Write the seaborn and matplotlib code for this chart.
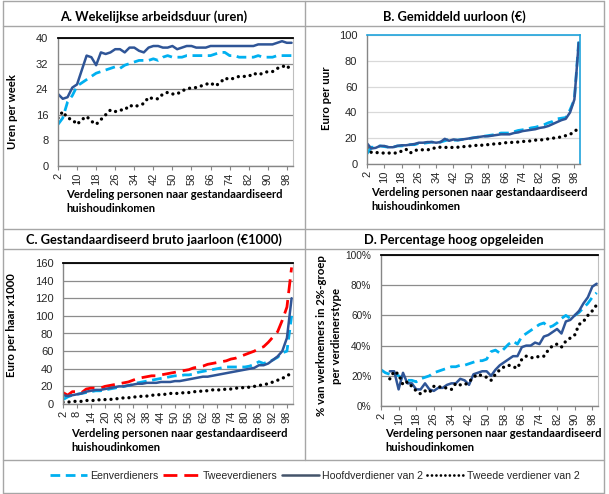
import numpy as np
import pandas as pd
import matplotlib
matplotlib.use("Agg")
import matplotlib.pyplot as plt
from matplotlib.lines import Line2D
from matplotlib.ticker import FuncFormatter
import seaborn as sns

# ---------------- data ----------------
percentiles = list(range(2, 101, 2))

a_een = [13, 15, 20, 22, 25, 26, 27, 28, 29, 29.5, 30, 30.5, 31, 30.5, 31.5, 32, 32.5, 33, 33, 33,
         33.5, 33, 34, 34.5, 34, 34, 34, 34.5, 34.5, 34.5, 34.5, 34.5, 34.5, 35, 35.5, 35.5, 34.5, 34.5,
         34, 34, 34, 34, 34.5, 34, 34, 34, 34.5, 34.5, 34.5, 34.5]
a_hoofd = [22.5, 21, 21.5, 24.5, 25.5, 30, 34.5, 34, 31.5, 35.5, 35, 35.5, 36.5, 36.5, 35.5, 37, 37, 36,
           35.5, 37, 37.5, 37.5, 37, 37, 37.5, 36.5, 37, 37.5, 37.5, 37, 37, 37, 37.5, 37.5, 37.5, 37.5,
           37.5, 37.5, 37.5, 37.5, 37.5, 37.5, 38, 38, 38, 38, 38.5, 39, 38.5, 38.5]
a_tweede = [15, 17, 15, 14.5, 13, 14.5, 15.5, 14, 13, 14.5, 16, 17.5, 17, 17.5, 17.5, 19, 18.5, 19, 19.5,
            21.5, 21, 21, 22.5, 23, 22.5, 22.5, 23.5, 24, 24.5, 24.5, 25, 25.5, 26, 25, 26, 27.5, 27,
            27.5, 28, 28, 28, 29, 28.5, 29, 29.5, 29.5, 30.5, 31, 31.5, 29.5]

b_een = [8, 13, 13, 14, 13.5, 13, 13, 14, 14, 14.5, 15, 15, 16, 16, 16.5, 17, 16.5, 17, 18, 19, 18.5,
         18.5, 19, 19.5, 20, 20.5, 21, 21.5, 22, 22.5, 23, 24, 24, 24, 25, 26, 26.5, 27, 28, 28.5, 29.5,
         30.5, 32, 33, 35, 35.5, 36, 42, 50, 95]
b_hoofd = [16, 12, 12.5, 14, 14, 13, 13, 14, 14.5, 14.5, 15, 15.5, 16.5, 16.5, 17, 17, 16.5, 17, 19.5,
           18, 19, 18.5, 19, 19.5, 20, 20.5, 21, 21.5, 21.5, 22, 22.5, 23, 23, 23, 24, 24.5, 25.5, 26,
           26.5, 27, 28, 28.5, 29.5, 31, 32.5, 34, 35, 40, 50, 94]
b_tweede = [12.5, 9, 9, 8.5, 8.5, 8.5, 8.5, 8.5, 10, 11.5, 8.5, 10.5, 11, 11, 11, 11.5, 13, 13, 13, 12.5,
            13, 13, 13.5, 13.5, 14, 14.5, 14, 15, 15, 15.5, 15.5, 16, 16.5, 16.5, 17, 17, 17.5, 17.5, 18,
            18.5, 18.5, 19, 19.5, 20, 20.5, 21, 22, 23, 25, 28]

c_een = [5, 8, 10, 11, 12, 13, 14, 15, 15, 16, 17, 18, 19, 20, 21, 22, 24, 25, 26, 27, 28, 29, 30, 31,
         32, 32, 33, 33, 34, 36, 37, 38, 39, 40, 41, 42, 42, 42, 42, 42, 43, 45, 48, 46, 48, 50, 53, 58,
         60, 100]
c_twee = [13, 10, 14, 14, 13, 17, 18, 18, 18, 20, 21, 22, 23, 24, 25, 27, 29, 30, 31, 32, 32, 33, 34,
          35, 36, 37, 38, 39, 41, 42, 43, 45, 46, 47, 48, 49, 51, 52, 54, 56, 58, 60, 63, 65, 70, 76, 82,
          95, 110, 155]
c_hoofd = [10, 9, 10, 11, 12, 14, 15, 16, 16, 17, 18, 19, 20, 20, 21, 22, 23, 23, 24, 24, 24, 25, 25,
           25, 26, 26, 27, 28, 29, 30, 31, 31, 32, 33, 34, 35, 36, 37, 38, 39, 40, 41, 44, 44, 46, 50, 54,
           60, 75, 120]
c_tweede = [2, 2, 3, 3, 3, 4, 4, 4, 5, 5, 5, 6, 6, 7, 7, 8, 8, 9, 9, 10, 10, 11, 11, 12, 12, 12, 13, 13,
            14, 14, 15, 15, 16, 16, 16, 17, 17, 18, 18, 19, 19, 20, 21, 22, 23, 25, 27, 29, 32, 35]

d_een = [24, 22, 21, 22, 20, 18, 17, 17, 16, 18, 19, 20, 22, 23, 24, 25, 26, 26, 27, 27, 28, 29, 30, 30,
         31, 36, 37, 35, 38, 41, 43, 41, 46, 48, 50, 52, 54, 55, 52, 53, 55, 58, 60, 58, 60, 62, 65, 68,
         72, 75]
d_hoofd = [np.nan, np.nan, 23, 23, 11, 22, 15, 15, 11, 11, 15, 11, 10, 12, 12, 14, 15, 15, 18, 17, 14,
           21, 22, 23, 23, 20, 24, 27, 29, 31, 33, 33, 39, 40, 40, 42, 41, 46, 47, 49, 51, 48, 56, 57, 60,
           63, 68, 72, 79, 81]
d_tweede = [np.nan, np.nan, 18, 23, 21, 14, 16, 13, 10, 8, 10, 9, 13, 13, 12, 12, 11, 15, 14, 14, 16, 19,
            21, 20, 19, 17, 21, 24, 26, 27, 26, 25, 31, 33, 32, 32, 33, 33, 37, 40, 41, 39, 43, 45, 47, 54,
            56, 60, 63, 67]

titles = ["A. Wekelijkse arbeidsduur (uren)", "B. Gemiddeld uurloon (\u20ac)",
          "C. Gestandaardiseerd bruto jaarloon (\u20ac1000)", "D. Percentage hoog opgeleiden"]
ylabels = ["Uren per week", "Euro per uur", "Euro per haar x1000",
           "% van werknemers in 2%-groep\nper verdienerstype"]
xlabel = "Verdeling personen naar gestandaardiseerd\nhuishoudinkomen"
legend_labels = ["Eenverdieners", "Tweeverdieners", "Hoofdverdiener van 2", "Tweede verdiener van 2"]

# ---------------- style ----------------
sns.set_theme(style="white")
plt.rcParams['font.family'] = ['Liberation Sans', 'DejaVu Sans']

W, H = 609, 494
fig = plt.figure(figsize=(W / 100, H / 100), dpi=100)
fig.patch.set_facecolor("white")

C_EEN = "#00B0F0"
C_TWEE = "#FF0000"
C_HOOFD = "#2F5597"
C_TWEEDE = "#000000"

styles = {
    "een": dict(color=C_EEN, lw=2.0, dashes=(3.5, 2.0)),
    "twee": dict(color=C_TWEE, lw=2.0, dashes=(5.0, 2.5)),
    "hoofd": dict(color=C_HOOFD, lw=1.8, dashes=None),
    "tweede": dict(color=C_TWEEDE, lw=2.4, dashes=(0.01, 1.8)),
}


def ax_rect(l, r, t, b):
    return [l / W, 1 - b / H, (r - l) / W, (b - t) / H]


def draw(ax, series, ymax, ystep, xtick_step, grid_color, frame_color=None, pct=False):
    for key, vals in series:
        st = styles[key]
        df = pd.DataFrame({"x": percentiles, "y": vals})
        sns.lineplot(data=df, x="x", y="y", ax=ax, color=st["color"], lw=st["lw"],
                     legend=False, estimator=None)
        line = ax.get_lines()[-1]
        if st["dashes"] is not None:
            line.set_dashes(st["dashes"])
            if key == "tweede":
                line.set_dash_capstyle("round")
    ax.set_xlim(2, 100.6)
    ax.set_ylim(0, ymax)
    ax.set_yticks(np.arange(0, ymax + 0.01, ystep))
    xt = list(range(2, 100, xtick_step))
    ax.set_xticks(xt)
    ax.set_xticklabels([str(v) for v in xt], rotation=90, fontsize=8)
    ax.tick_params(axis="y", labelsize=7.3 if pct else 8, length=0, pad=7)
    ax.tick_params(axis="x", length=3, width=0.8, color="#868686", pad=2, bottom=True)
    if pct:
        ax.yaxis.set_major_formatter(FuncFormatter(lambda v, p: f"{int(v)}%"))
    ax.grid(axis="y", color=grid_color, lw=0.9)
    ax.grid(axis="x", visible=False)
    ax.set_axisbelow(True)
    ax.set_xlabel("")
    ax.set_ylabel("")
    for s in ["left", "bottom"]:
        ax.spines[s].set_color("#868686")
        ax.spines[s].set_linewidth(1.0)
    if frame_color:
        ax.spines["top"].set_color(frame_color)
        ax.spines["right"].set_color(frame_color)
        ax.spines["top"].set_linewidth(1.2)
        ax.spines["right"].set_linewidth(1.2)
    else:
        ax.spines["top"].set_color("#000000")
        ax.spines["top"].set_linewidth(1.3)
        ax.spines["right"].set_color("#BFBFBF")
        ax.spines["right"].set_linewidth(0.8)
    ax.set_facecolor("white")


axA = fig.add_axes(ax_rect(58, 293, 38, 166))
draw(axA, [("een", a_een), ("hoofd", a_hoofd), ("tweede", a_tweede)], 40, 8, 8, "#8C8C8C")

axB = fig.add_axes(ax_rect(367, 580, 35, 164))
draw(axB, [("een", b_een), ("hoofd", b_hoofd), ("tweede", b_tweede)], 100, 20, 8, "#D9D9D9",
     frame_color="#1FA3DC")

axC = fig.add_axes(ax_rect(63, 293, 263, 404))
draw(axC, [("twee", c_twee), ("een", c_een), ("hoofd", c_hoofd), ("tweede", c_tweede)], 160, 20, 6,
     "#8C8C8C")

axD = fig.add_axes(ax_rect(381, 598, 255, 406))
draw(axD, [("een", d_een), ("hoofd", d_hoofd), ("tweede", d_tweede)], 100, 20, 8, "#8C8C8C", pct=True)

# ---------------- table frame ----------------
def hline(y, x0, x1, c="#A6A6A6", lw=1.0):
    fig.add_artist(Line2D([x0 / W, x1 / W], [1 - y / H, 1 - y / H], color=c, lw=lw))


def vline(x, y0, y1, c="#A6A6A6", lw=1.0):
    fig.add_artist(Line2D([x / W, x / W], [1 - y0 / H, 1 - y1 / H], color=c, lw=lw))


L, R, T, B = 2.5, 603.5, 1, 492.5
hline(T, L, R)
hline(B, L, R)
vline(L, T, B)
vline(R, T, B)
vline(305, T, 459.5)
hline(26.5, L, R)
hline(229, L, R)
hline(249.5, L, R)
hline(459.5, L, R)

# ---------------- texts ----------------
tfont = dict(family=['Lato', 'DejaVu Sans'], fontweight="bold", fontsize=9.3, color="black")
fig.text(153.5 / W, 1 - 17 / H, titles[0], ha="center", va="center", **tfont)
fig.text(454 / W, 1 - 17 / H, titles[1], ha="center", va="center", **tfont)
fig.text(153.5 / W, 1 - 240 / H, titles[2], ha="center", va="center", **tfont)
fig.text(454 / W, 1 - 240 / H, titles[3], ha="center", va="center", **tfont)

lfont = dict(family=['Lato', 'DejaVu Sans'], fontweight="bold", fontsize=8.1, color="black",
             linespacing=1.35)
for (x, y) in [(66, 189), (371, 187), (71, 428), (385, 428)]:
    fig.text(x / W, 1 - y / H, xlabel, ha="left", va="top", **lfont)

yfont = dict(family=['Lato', 'DejaVu Sans'], fontweight="bold", fontsize=8.2, color="black",
             rotation=90, ha="center", va="center", multialignment="center", linespacing=1.35)
fig.text(13 / W, 1 - 112 / H, ylabels[0], **yfont)
fig.text(327 / W, 1 - 98 / H, ylabels[1], **yfont)
fig.text(12 / W, 1 - 325 / H, ylabels[2], **yfont)
fig.text(329 / W, 1 - 336 / H, ylabels[3], **yfont)

# ---------------- legend ----------------
handles = []
for key in ["een", "twee", "hoofd", "tweede"]:
    st = styles[key]
    c = st["color"] if key != "hoofd" else "#44546A"
    h = Line2D([], [], color=c, lw=st["lw"] if key != "tweede" else 2.0)
    if st["dashes"] is not None:
        h.set_dashes(st["dashes"] if key != "tweede" else (0.01, 1.6))
        if key == "tweede":
            h.set_dash_capstyle("round")
    handles.append(h)
fig.legend(handles, legend_labels, loc="center", bbox_to_anchor=(315 / W, 1 - 476 / H), ncol=4,
           frameon=False, handlelength=3.5, handletextpad=0.3, columnspacing=0.4,
           prop=dict(family=['Liberation Sans', 'DejaVu Sans'], size=7.6))

fig.savefig("out.png", dpi=100, facecolor="white")
